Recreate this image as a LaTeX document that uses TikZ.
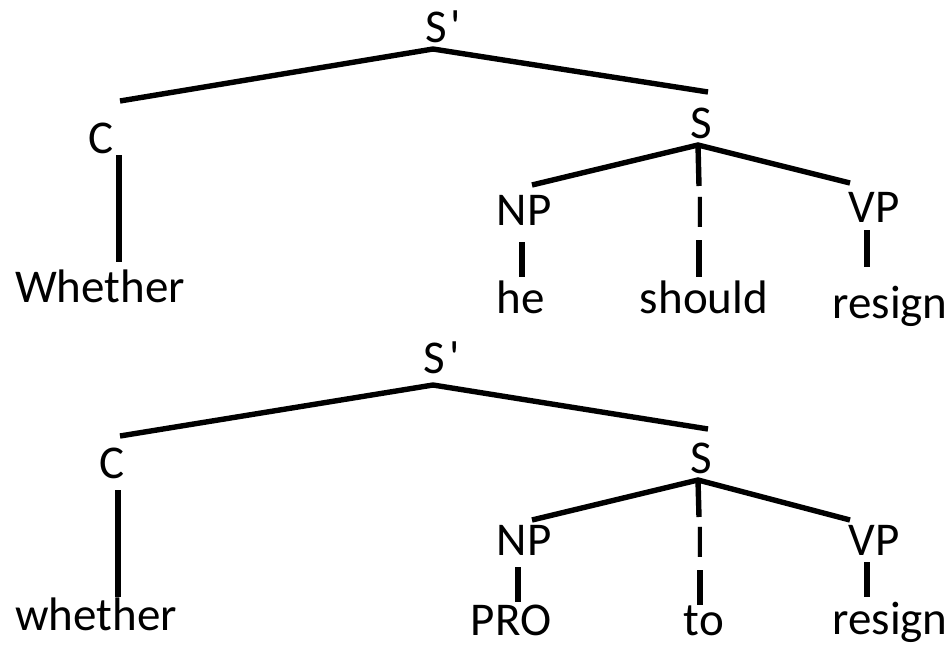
\documentclass[tikz,border=0pt]{standalone}
\usepackage{fontspec}
\setmainfont{Carlito}[Ligatures=TeXOff]
\begin{document}
\begin{tikzpicture}[x=1pt,y=-1pt,
  lbl/.style={anchor=base,inner sep=0pt,font=\fontsize{47}{50}\selectfont},
  edge/.style={line width=5.4pt}]
\useasboundingbox (0,0) rectangle (951,645);
\newcommand{\primed}[1]{#1\rlap{\kern4pt '}}
% ---------- top tree ----------
\node[lbl] (sp1) at (436,42) {\primed{S}};
\node[lbl] (c1) at (101,153) {C};
\node[lbl] (s1) at (701,138) {S};
\node[lbl] (np1) at (524,225) {NP};
\node[lbl] (i1) at (700,227) {I};
\node[lbl] (vp1) at (874,222) {VP};
\node[lbl] (w1) at (100,302) {Whether};
\node[lbl] (he) at (521,313) {he};
\node[lbl] (should) at (704,313) {should};
\node[lbl] (rs1) at (890,318) {resign};
\coordinate (a1) at (433,49);
\coordinate (a1l) at (120,101);
\coordinate (a1r) at (708,92);
\coordinate (b1) at (698,145);
\coordinate (b1l) at (532,185);
\coordinate (b1r) at (850,183);
\coordinate (b1m) at (699,186);
\draw[edge] (a1l) -- (a1) -- (a1r);
\draw[edge] (b1l) -- (b1) -- (b1r);
\draw[edge] (b1) -- (b1m);
\coordinate (c1t) at (119,155); \coordinate (w1t) at (119,262);
\draw[edge] (c1t) -- (w1t);
\coordinate (i1b) at (699,240); \coordinate (sht) at (699,277);
\draw[edge] (i1b) -- (sht);
\coordinate (np1b) at (522,242); \coordinate (het) at (522,277);
\draw[edge] (np1b) -- (het);
\coordinate (vp1b) at (867,230); \coordinate (rs1t) at (867,267);
\draw[edge] (vp1b) -- (rs1t);
% ---------- bottom tree ----------
\node[lbl] (sp2) at (434.5,373) {\primed{S}};
\node[lbl] (c2) at (112,478) {C};
\node[lbl] (s2) at (701,473) {S};
\node[lbl] (np2) at (524,555) {NP};
\node[lbl] (i2) at (700,557) {I};
\node[lbl] (vp2) at (874,555) {VP};
\node[lbl] (w2) at (96,630) {whether};
\node[lbl] (pro) at (511,635) {PRO};
\node[lbl] (to) at (704,635) {to};
\node[lbl] (rs2) at (890,634) {resign};
\coordinate (a2) at (433,385);
\coordinate (a2l) at (120,436);
\coordinate (a2r) at (708,429);
\coordinate (b2) at (698,480);
\coordinate (b2l) at (532,520);
\coordinate (b2r) at (850,520);
\coordinate (b2m) at (699,517);
\draw[edge] (a2l) -- (a2) -- (a2r);
\draw[edge] (b2l) -- (b2) -- (b2r);
\draw[edge] (b2) -- (b2m);
\coordinate (c2t) at (118,490); \coordinate (w2t) at (118,597);
\draw[edge] (c2t) -- (w2t);
\coordinate (i2b) at (700,570); \coordinate (tot) at (700,605);
\draw[edge] (i2b) -- (tot);
\coordinate (np2b) at (518,567); \coordinate (prot) at (518,602);
\draw[edge] (np2b) -- (prot);
\coordinate (vp2b) at (867,562); \coordinate (rs2t) at (867,597);
\draw[edge] (vp2b) -- (rs2t);
\end{tikzpicture}
\end{document}
